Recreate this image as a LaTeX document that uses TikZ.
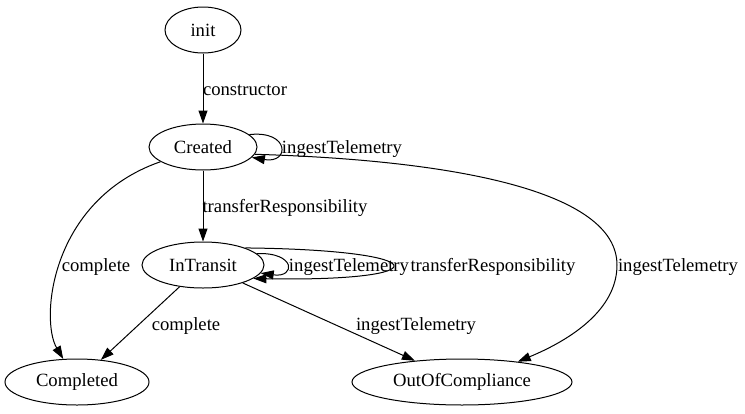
\documentclass[tikz,border=0pt]{standalone}
\usepackage{fontspec}
\setmainfont{Liberation Serif}
\usepackage{tikz}
\usetikzlibrary{shapes.geometric}
\usetikzlibrary{arrows.meta}

\tikzset{
  state/.style={ellipse,draw,line width=1pt,inner sep=0pt,minimum height=46pt},
  trans/.style={line width=1pt,-{Triangle[length=13pt,width=9pt]}},
  lbl/.style={inner sep=0pt,anchor=center,yshift=-2pt}
}

\begin{document}
\begin{tikzpicture}[x=1pt,y=-1pt,font=\fontsize{18.67}{22}\selectfont]
      \useasboundingbox (0,0) rectangle (745,413);

      \node[state,minimum width=76pt] (init) at (203,30) {init};
      \node[state,minimum width=108pt] (created) at (203,147) {Created};
      \node[state,minimum width=122pt] (intransit) at (203,265) {InTransit};
      \node[state,minimum width=144pt] (completed) at (77,382) {Completed};
      \node[state,minimum width=220pt] (ooc) at (462,382) {OutOfCompliance};

      % labels
      \node[lbl] (lconstr) at (245,88) {constructor};
      \node[lbl] (lcrloop) at (342,147) {ingestTelemetry};
      \node[lbl] (lcrtr) at (285,206) {transferResponsibility};
      \node[lbl] (lcrcomp) at (96,265) {complete};
      \node[lbl] (lcrooc) at (678,265) {ingestTelemetry};
      \node[lbl] (litloop1) at (349,265) {ingestTelemetry};
      \node[lbl] (litloop2) at (493,265) {transferResponsibility};
      \node[lbl] (litcomp) at (186,324) {complete};
      \node[lbl] (litooc) at (416,324) {ingestTelemetry};

      \draw[trans] (init) -- (created);
      \draw[trans] (created) -- (intransit);
      \draw[trans] (created.15) .. controls (290,130) and (290,164) .. (created.-12);
      \draw[trans] (created) .. controls (50,200) and (40,320) .. (completed);
      \draw[trans] (created.-8) .. controls (450,160) and (617,190) .. (617,265)
                   .. controls (617,310) and (570,340) .. (ooc.20);

      \draw[trans] (intransit.12) .. controls (296,252) and (296,278) .. (intransit.-8);
      \draw[trans] (intransit.22) .. controls (440,250) and (440,282) .. (intransit.-15);
      \draw[trans] (intransit) -- (completed);
      \draw[trans] (intransit) -- (ooc);
\end{tikzpicture}
\end{document}
